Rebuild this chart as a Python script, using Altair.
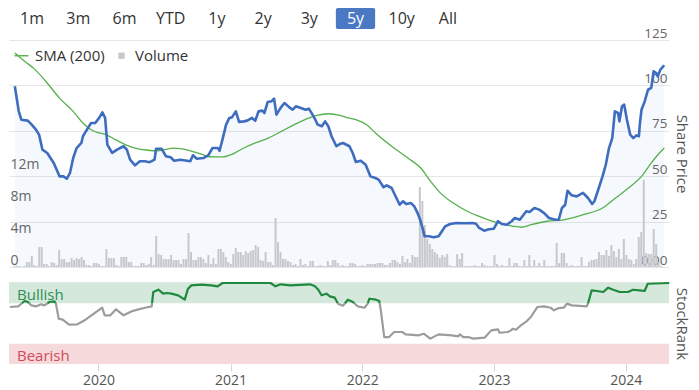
import altair as alt
import numpy as np
import pandas as pd

FONT = "Open Sans"

# ------------------------------------------------------------------ data
range_buttons = ["1m", "3m", "6m", "YTD", "1y", "2y", "3y", "5y", "10y", "All"]
selected_range = "5y"

year_ticks = [2020, 2021, 2022, 2023, 2024]
price_ticks = [0, 25, 50, 75, 100, 125]
volume_ticks = [0, 4, 8, 12]
rank_ticks = [0]
legend_items = ["SMA (200)", "Volume"]

band_labels = ["Bullish", "Bearish"]
band_lo = [75, 0]
band_hi = [100, 25]
bull_threshold = 75

# share price (decimal year, price)
price_t = [2019.327, 2019.357, 2019.377, 2019.427, 2019.457, 2019.490, 2019.514, 2019.540, 2019.577, 2019.627,
           2019.672, 2019.702, 2019.728, 2019.752, 2019.777, 2019.803, 2019.840, 2019.852, 2019.890, 2019.915,
           2019.947, 2019.977, 2020.002, 2020.023, 2020.040, 2020.077, 2020.115, 2020.165, 2020.190, 2020.215,
           2020.253, 2020.290, 2020.328, 2020.365, 2020.403, 2020.415, 2020.458, 2020.490, 2020.528, 2020.553,
           2020.603, 2020.678, 2020.698, 2020.728, 2020.778, 2020.816, 2020.848, 2020.891, 2020.903, 2020.928,
           2020.953, 2020.978, 2020.998, 2021.028, 2021.053, 2021.090, 2021.116, 2021.153, 2021.178, 2021.203,
           2021.233, 2021.248, 2021.274, 2021.304, 2021.323, 2021.341, 2021.373, 2021.403, 2021.441, 2021.466,
           2021.491, 2021.529, 2021.566, 2021.591, 2021.616, 2021.641, 2021.659, 2021.691, 2021.716, 2021.741,
           2021.766, 2021.803, 2021.829, 2021.854, 2021.904, 2021.929, 2021.953, 2021.991, 2022.029, 2022.066,
           2022.104, 2022.129, 2022.167, 2022.191, 2022.229, 2022.266, 2022.291, 2022.317, 2022.341, 2022.379,
           2022.404, 2022.429, 2022.449, 2022.467, 2022.484, 2022.516, 2022.554, 2022.591, 2022.617, 2022.642,
           2022.679, 2022.729, 2022.792, 2022.854, 2022.880, 2022.904, 2022.942, 2022.979, 2023.017, 2023.049,
           2023.079, 2023.117, 2023.154, 2023.179, 2023.217, 2023.267, 2023.292, 2023.330, 2023.367, 2023.405,
           2023.442, 2023.492, 2023.517, 2023.542, 2023.567, 2023.585, 2023.617, 2023.655, 2023.705, 2023.743,
           2023.775, 2023.792, 2023.818, 2023.855, 2023.880, 2023.905, 2023.930, 2023.950, 2023.975, 2023.985,
           2024.005, 2024.022, 2024.043, 2024.068, 2024.092, 2024.118, 2024.135, 2024.143, 2024.155, 2024.180,
           2024.205, 2024.230, 2024.248, 2024.268, 2024.280, 2024.300, 2024.330]
price_v = [99.5, 85.9, 81.1, 80.6, 78.4, 75.6, 72.9, 64.6, 62.8, 57.3,
           49.9, 49.9, 48.6, 51.8, 60.0, 65.5, 68.3, 72.0, 76.5, 79.3,
           79.3, 82.1, 85.2, 82.1, 67.4, 62.8, 64.6, 66.5, 64.6, 59.1,
           56.0, 58.2, 58.2, 57.7, 59.1, 65.1, 65.1, 61.0, 60.4, 58.5,
           59.1, 58.2, 61.5, 59.6, 60.0, 61.5, 65.5, 65.5, 64.0, 71.0,
           78.4, 82.1, 82.4, 85.7, 79.9, 80.2, 80.6, 82.1, 80.6, 85.7,
           86.1, 84.8, 90.9, 91.3, 92.7, 83.9, 87.6, 90.3, 87.9, 86.6,
           88.5, 87.6, 86.6, 87.2, 84.3, 81.1, 78.4, 77.5, 80.2, 77.5,
           72.0, 66.5, 67.7, 68.3, 66.5, 62.8, 57.8, 58.5, 56.3, 49.9,
           49.0, 48.1, 43.9, 45.0, 43.5, 38.0, 34.3, 36.2, 34.7, 35.2,
           33.4, 29.7, 26.0, 21.5, 16.9, 16.9, 16.4, 16.9, 19.7, 22.4,
           23.7, 24.2, 24.1, 24.2, 23.8, 21.5, 20.0, 20.8, 21.1, 25.2,
           23.7, 23.3, 25.2, 27.0, 26.0, 30.7, 30.3, 32.5, 31.6, 29.7,
           27.0, 26.0, 26.0, 32.5, 34.3, 42.0, 39.5, 38.9, 40.8, 38.0,
           34.7, 36.2, 41.7, 49.9, 56.3, 65.5, 71.0, 85.7, 84.8, 80.2,
           88.5, 89.4, 81.1, 72.9, 71.0, 72.5, 72.0, 79.3, 86.6, 91.3,
           97.6, 98.6, 107.8, 106.8, 105.0, 108.7, 111.1]

# 200-day simple moving average
sma_t = [2019.327, 2019.402, 2019.477, 2019.565, 2019.677, 2019.777, 2019.852, 2019.915, 2019.977, 2020.028,
         2020.103, 2020.178, 2020.253, 2020.353, 2020.428, 2020.553, 2020.615, 2020.678, 2020.778, 2020.828,
         2020.928, 2021.003, 2021.078, 2021.178, 2021.278, 2021.379, 2021.478, 2021.578, 2021.653, 2021.741,
         2021.829, 2021.891, 2021.953, 2022.041, 2022.104, 2022.229, 2022.354, 2022.454, 2022.529, 2022.604,
         2022.704, 2022.804, 2022.904, 2023.004, 2023.104, 2023.167, 2023.229, 2023.304, 2023.429, 2023.555,
         2023.705, 2023.855, 2023.955, 2024.055, 2024.155, 2024.230, 2024.293, 2024.330]
sma_v = [117.8, 113.3, 109.1, 102.3, 92.6, 85.7, 79.3, 75.6, 73.8, 72.9,
         70.1, 67.4, 65.5, 64.3, 64.0, 65.5, 65.1, 64.0, 61.8, 60.7,
         60.6, 62.2, 65.1, 68.3, 71.0, 74.7, 78.4, 81.7, 83.5, 84.4,
         83.5, 82.1, 81.1, 78.0, 73.8, 66.5, 60.0, 54.5, 47.2, 40.8,
         35.2, 31.0, 27.9, 25.2, 23.3, 22.4, 21.9, 23.3, 25.2, 26.0,
         28.8, 32.5, 38.0, 43.5, 49.9, 57.3, 62.8, 65.5]

# weekly volume, millions of shares
volume_first_week = "2019-04-29"
volume_m = [0.12, 0.12, 0.12, 0.06, 0.12, 0.62, 0.62, 1.38, 0.25, 0.12,
            2.5, 2.5, 0.38, 0.38, 0.12, 0.62, 0.5, 0.25, 2.12, 1.0,
            1.0, 0.62, 0.62, 1.12, 0.88, 1.12, 1.0, 1.25, 0.88, 0.25,
            0.25, 0.12, 0.5, 0.5, 0.38, 0.12, 0.12, 2.25, 1.12, 1.12,
            1.12, 0.25, 0.12, 1.25, 1.25, 1.25, 0.62, 0.62, 0.12, 0.12,
            0.12, 0.5, 0.5, 0.25, 0.38, 1.25, 0.25, 3.88, 1.62, 1.5,
            1.0, 1.0, 1.0, 1.5, 0.88, 0.88, 0.88, 0.38, 1.0, 1.0,
            4.25, 1.88, 0.88, 0.88, 1.25, 1.25, 1.0, 0.5, 1.5, 0.38,
            1.12, 0.38, 2.25, 2.25, 1.88, 1.25, 0.62, 0.38, 1.62, 2.38,
            1.88, 1.88, 1.5, 2.0, 1.75, 2.0, 2.12, 2.75, 2.5, 0.88,
            0.75, 1.88, 0.62, 0.62, 0.25, 6.12, 3.12, 1.88, 1.0, 1.0,
            0.75, 0.62, 0.25, 0.38, 0.12, 1.0, 0.25, 0.38, 0.12, 0.75,
            0.75, 0.12, 0.12, 0.25, 0.12, 0.12, 0.75, 0.25, 0.88, 0.88,
            0.5, 0.12, 0.25, 0.12, 0.12, 0.5, 0.5, 0.38, 0.12, 0.12,
            0.25, 0.12, 0.38, 0.38, 0.38, 0.38, 0.5, 0.5, 0.5, 0.25,
            0.25, 0.5, 0.88, 0.88, 0.62, 0.38, 1.38, 0.62, 1.0, 0.5,
            1.5, 1.25, 1.25, 10.0, 8.25, 5.25, 3.5, 2.88, 2.25, 1.88,
            1.62, 1.12, 1.5, 1.25, 1.62, 0.25, 0.12, 0.12, 1.62, 1.0,
            1.75, 0.12, 0.12, 0.12, 0.12, 0.25, 0.12, 0.12, 0.5, 0.25,
            0.12, 0.12, 0.12, 1.5, 0.38, 0.12, 0.25, 0.12, 0.12, 1.12,
            0.12, 0.5, 0.5, 0.12, 0.12, 0.88, 0.12, 1.5, 0.12, 0.88,
            0.12, 0.5, 0.12, 0.88, 0.12, 0.12, 0.12, 0.12, 3.0, 0.5,
            1.75, 1.75, 0.5, 0.12, 0.25, 0.12, 0.12, 0.12, 1.25, 0.12,
            0.12, 0.62, 0.88, 0.88, 1.0, 1.88, 1.5, 1.5, 2.12, 1.38,
            2.75, 2.0, 1.25, 2.25, 1.0, 3.5, 1.5, 1.0, 0.88, 0.38,
            1.0, 3.75, 4.38, 10.9, 1.75, 1.62, 1.62, 4.75, 2.88, 0.62, 0.12]

# StockRank (0-100)
rank_t = [2019.327, 2019.390, 2019.439, 2019.465, 2019.490, 2019.527, 2019.565, 2019.589, 2019.627, 2019.665,
          2019.677, 2019.698, 2019.728, 2019.777, 2019.840, 2019.902, 2019.965, 2020.028, 2020.047, 2020.090,
          2020.133, 2020.190, 2020.253, 2020.302, 2020.353, 2020.403, 2020.415, 2020.453, 2020.490, 2020.516,
          2020.553, 2020.603, 2020.653, 2020.678, 2020.703, 2020.778, 2020.853, 2020.903, 2020.940, 2021.304,
          2021.341, 2021.379, 2021.454, 2021.604, 2021.641, 2021.666, 2021.691, 2021.728, 2021.754, 2021.791,
          2021.816, 2021.854, 2021.891, 2021.929, 2021.966, 2022.017, 2022.041, 2022.054, 2022.104, 2022.129,
          2022.141, 2022.167, 2022.204, 2022.242, 2022.304, 2022.329, 2022.429, 2022.467, 2022.516, 2022.579,
          2022.679, 2022.729, 2022.741, 2022.767, 2022.804, 2022.842, 2022.929, 2022.979, 2023.030, 2023.042,
          2023.105, 2023.129, 2023.142, 2023.167, 2023.204, 2023.242, 2023.280, 2023.330, 2023.379, 2023.430,
          2023.454, 2023.492, 2023.529, 2023.555, 2023.592, 2023.705, 2023.717, 2023.742, 2023.780, 2023.830,
          2023.867, 2023.905, 2023.955, 2024.017, 2024.055, 2024.105, 2024.143, 2024.167, 2024.330]
rank_v = [70.4, 71.2, 77.8, 76.5, 72.4, 71.2, 73.7, 72.4, 76.5, 77.4,
          74.5, 55.9, 54.7, 48.5, 49.0, 54.7, 62.1, 69.5, 60.1, 60.1,
          67.5, 60.1, 65.1, 67.5, 69.5, 71.2, 88.9, 91.7, 86.8, 87.7,
          86.8, 84.8, 79.4, 93.0, 97.1, 97.9, 97.1, 95.9, 100.0, 100.0,
          95.9, 98.4, 97.1, 98.4, 95.9, 91.7, 84.8, 86.8, 83.5, 81.9,
          74.5, 72.0, 79.4, 76.5, 71.2, 69.5, 74.5, 80.6, 79.4, 77.8,
          66.3, 33.3, 33.3, 39.5, 39.5, 36.6, 35.4, 37.4, 31.3, 36.6,
          35.4, 34.2, 36.6, 33.3, 33.3, 31.3, 32.5, 41.5, 42.8, 38.6,
          39.5, 41.5, 43.6, 42.3, 47.7, 51.9, 58.0, 70.4, 71.2, 69.5,
          66.3, 69.1, 69.5, 74.5, 72.4, 71.2, 76.5, 91.0, 90.1, 88.9,
          94.2, 91.7, 88.9, 88.9, 91.7, 91.0, 90.1, 99.1, 100.0]

assert len(price_t) == len(price_v)
assert len(sma_t) == len(sma_v)
assert len(rank_t) == len(rank_v)

# ------------------------------------------------------------------ styling
W = 660
H_MAIN = 227
H_RANK = 81
H_BTN = 21
GAP_BTN = 11
TITLE_DX = 12

PRICE_C = "#3e6dbf"
SMA_C = "#55b04b"
VOL_C = "#c6c8ce"
RANK_GREEN = "#1f8a3e"
RANK_GRAY = "#9c9c9c"
BULL_FILL = "#d5e8dc"
BEAR_FILL = "#f6d9db"
BULL_TEXT = "#2f8f55"
BEAR_TEXT = "#d2495a"
BTN_BLUE = "#4a78c2"
LABEL_C = "#666666"
TITLE_C = "#555555"
GRID_C = "#e6e6e6"


def to_dt(ts):
    out = []
    for t in ts:
        y = int(np.floor(t))
        s = pd.Timestamp(year=y, month=1, day=1)
        e = pd.Timestamp(year=y + 1, month=1, day=1)
        out.append((s + (e - s) * (t - y)).floor("h"))
    return out


price_df = pd.DataFrame({"date": to_dt(price_t), "price": price_v})
sma_df = pd.DataFrame({"date": to_dt(sma_t), "price": sma_v})
vol_df = pd.DataFrame({"date": pd.date_range(volume_first_week, periods=len(volume_m), freq="7D"),
                       "vol": volume_m})

# split the StockRank line into bullish / other runs at the threshold
rows = []
seg = 0
prev = None
for d, v in zip(to_dt(rank_t), rank_v):
    s = "bull" if v >= bull_threshold else "other"
    if prev is not None and s != prev[2]:
        pdt, pv, ps = prev
        f = (bull_threshold - pv) / (v - pv)
        dc = pdt + (d - pdt) * f
        rows.append((dc, bull_threshold, seg, ps))
        seg += 1
        rows.append((dc, bull_threshold, seg, s))
    rows.append((d, v, seg, s))
    prev = (d, v, s)
rank_df = pd.DataFrame(rows, columns=["date", "rank", "seg", "state"])

x_start = alt.DateTime(year=2019, month=4, date=28)
x_end = alt.DateTime(year=2024, month=4, date=30)
band_df = pd.DataFrame({"label": band_labels, "lo": band_lo, "hi": band_hi,
                        "start": [pd.Timestamp("2019-04-28")] * 2, "end": [pd.Timestamp("2024-04-30")] * 2})
band_df["mid"] = (band_df["lo"] + band_df["hi"]) / 2

xscale = alt.Scale(domain=[x_start, x_end])
x_main = alt.X("date:T", scale=xscale, axis=None)

# ------------------------------------------------------------------ buttons
btn_df = pd.DataFrame({"label": range_buttons, "selected": [b == selected_range for b in range_buttons]})
bx = alt.X("label:N", sort=range_buttons, axis=None,
           scale=alt.Scale(paddingInner=0.15, paddingOuter=0.075))
btn_rect = alt.Chart(btn_df).transform_filter(alt.datum.selected == True).mark_bar(
    color=BTN_BLUE, cornerRadius=2).encode(x=bx, y=alt.value(0), y2=alt.value(H_BTN))
btn_text = alt.Chart(btn_df).mark_text(font=FONT, fontSize=16, baseline="middle").encode(
    x=bx, y=alt.value(H_BTN / 2),
    text="label:N",
    color=alt.condition(alt.datum.selected == True, alt.value("white"), alt.value("#333333")))
buttons_chart = alt.layer(btn_rect, btn_text).properties(width=462, height=H_BTN)

# ------------------------------------------------------------------ main panel
price_axis = alt.Axis(orient="right", values=price_ticks,
                      labelExpr="datum.value == 0 ? '0.00' : datum.label",
                      grid=True, gridColor=GRID_C, domain=False, ticks=False, tickSize=0,
                      labelAlign="right", labelPadding=-2, labelBaseline="alphabetic", labelOffset=-3,
                      labelColor=LABEL_C, labelFontSize=13.5, labelFont=FONT,
                      title="Share Price", titleFont=FONT, titleFontSize=15, titleFontWeight="normal",
                      titleColor=TITLE_C, titleX=TITLE_DX, titleY=H_MAIN / 2, titleAngle=90,
                      titleAlign="center", titleBaseline="middle")
vol_axis = alt.Axis(orient="left", values=volume_ticks,
                    labelExpr="datum.value == 0 ? '0' : datum.value + 'm'",
                    grid=False, domain=False, ticks=False, tickSize=0,
                    labelAlign="left", labelPadding=-1, labelBaseline="alphabetic", labelOffset=-3,
                    labelColor=LABEL_C, labelFontSize=14, labelFont=FONT, title=None)

price_scale = alt.Scale(domain=[0, 125], nice=False)

area = alt.Chart(price_df).mark_area(color=PRICE_C, opacity=0.05).encode(
    x=x_main, y=alt.Y("price:Q", scale=price_scale, axis=None))
bars = alt.Chart(vol_df).mark_bar(size=2, color=VOL_C).encode(
    x=x_main, y=alt.Y("vol:Q", scale=alt.Scale(domain=[0, H_MAIN / 8], nice=False), axis=vol_axis))
sma_line = alt.Chart(sma_df).mark_line(color=SMA_C, strokeWidth=1.3, interpolate="monotone").encode(
    x=x_main, y=alt.Y("price:Q", scale=price_scale, axis=None))
price_line = alt.Chart(price_df).mark_line(color=PRICE_C, strokeWidth=2.6, strokeJoin="round").encode(
    x=x_main, y=alt.Y("price:Q", scale=price_scale, axis=price_axis))

# legends are placed relative to the whole chart, so offset by the button row
legend_df = pd.DataFrame({"item": legend_items})
leg = alt.Legend(title=None, orient="none", legendX=5, legendY=H_BTN + GAP_BTN + 8,
                 direction="horizontal", symbolOpacity=1,
                 symbolSize=196, symbolStrokeWidth=0, labelFont=FONT, labelFontSize=15,
                 labelColor="#333333", labelOffset=6, columnPadding=9)
legend_layer = alt.Chart(legend_df).mark_point(filled=True, size=0, strokeWidth=0).encode(
    color=alt.Color("item:N", scale=alt.Scale(domain=legend_items, range=[SMA_C, VOL_C]), legend=leg),
    shape=alt.Shape("item:N", scale=alt.Scale(domain=legend_items,
                                              range=["M-1,-0.1H1V0.1H-1Z", "M-0.45,-0.45H0.45V0.45H-0.45Z"]),
                    legend=leg))

main = alt.layer(area, bars, sma_line, price_line, legend_layer).resolve_scale(
    y="independent").properties(width=W, height=H_MAIN)

# ------------------------------------------------------------------ StockRank panel
rank_scale = alt.Scale(domain=[0, 100], nice=False)
rank_xaxis = alt.Axis(values=[alt.DateTime(year=y) for y in year_ticks], format="%Y",
                      domain=False, ticks=True, tickSize=7, tickColor="#ccd6eb", grid=False,
                      labelPadding=2, labelFontSize=14, labelColor=TITLE_C, labelFont=FONT,
                      title=None)
rank_axis = alt.Axis(orient="right", values=rank_ticks, grid=False, domain=False, ticks=False, tickSize=0,
                     labelAlign="right", labelPadding=-2, labelBaseline="alphabetic", labelOffset=-3,
                     labelColor=LABEL_C, labelFontSize=14, labelFont=FONT,
                     title="StockRank", titleFont=FONT, titleFontSize=15, titleFontWeight="normal",
                     titleColor=TITLE_C, titleX=TITLE_DX, titleY=H_RANK / 2, titleAngle=90,
                     titleAlign="center", titleBaseline="middle")

bands = alt.Chart(band_df).mark_rect().encode(
    x=alt.X("start:T", scale=xscale, axis=rank_xaxis), x2="end:T",
    y=alt.Y("lo:Q", scale=rank_scale, axis=rank_axis), y2="hi:Q",
    color=alt.Color("label:N", scale=alt.Scale(domain=band_labels, range=[BULL_FILL, BEAR_FILL]), legend=None))
band_text = alt.Chart(band_df).mark_text(align="left", baseline="middle", dx=8, dy=2, font=FONT,
                                         fontSize=15).encode(
    x=alt.X("start:T", scale=xscale, axis=rank_xaxis),
    y=alt.Y("mid:Q", scale=rank_scale, axis=rank_axis),
    text="label:N",
    color=alt.Color("label:N", scale=alt.Scale(domain=band_labels, range=[BULL_TEXT, BEAR_TEXT]), legend=None))
top_rule = alt.Chart(band_df).mark_rule(color=GRID_C, strokeWidth=1).encode(y=alt.value(-0.5))
rank_lines = alt.Chart(rank_df).mark_line(strokeWidth=2.2, strokeJoin="round").encode(
    x=alt.X("date:T", scale=xscale, axis=rank_xaxis),
    y=alt.Y("rank:Q", scale=rank_scale, axis=rank_axis),
    color=alt.Color("state:N", scale=alt.Scale(domain=["bull", "other"], range=[RANK_GREEN, RANK_GRAY]),
                    legend=None),
    detail="seg:N")

rank_chart = alt.layer(bands, band_text, top_rule, rank_lines).resolve_scale(color="independent").properties(
    width=W, height=H_RANK)

lower = alt.vconcat(main, rank_chart, spacing=16, bounds="flush")
chart = alt.vconcat(buttons_chart, lower, spacing=GAP_BTN, bounds="flush").properties(
    padding={"left": 0, "top": 0, "right": 3, "bottom": 0}).configure(
    font=FONT).configure_view(stroke=None)

chart.save("out.html", embed_options={"renderer": "svg", "actions": False})
